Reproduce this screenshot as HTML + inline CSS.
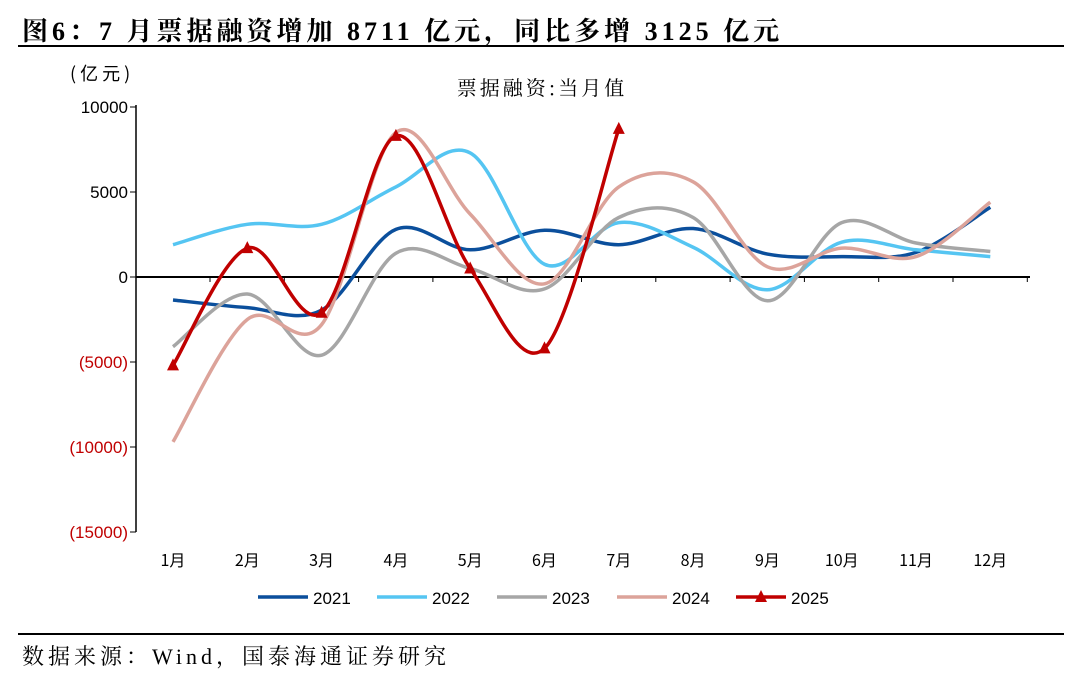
<!DOCTYPE html>
<html><head><meta charset="utf-8"><style>
body{margin:0;width:1080px;height:681px;background:#fff;overflow:hidden;font-family:"Liberation Serif","Noto Serif CJK SC",serif}
.t{position:absolute;left:22px;top:11px;font-size:26px;letter-spacing:4px;font-weight:bold;color:#000;white-space:nowrap}
.hl{position:absolute;left:18px;width:1046px;height:1.5px;background:#000}
.src{position:absolute;left:22px;top:640px;font-size:22px;letter-spacing:4px;white-space:nowrap}
</style></head><body>
<div class="t">图6：7 月票据融资增加 8711 亿元，同比多增 3125 亿元</div>
<div class="hl" style="top:45px"></div>
<div class="hl" style="top:633px"></div>
<div class="src">数据来源：Wind，国泰海通证券研究</div>
<svg id="s" width="1080" height="681" style="position:absolute;left:0;top:0" font-family="Liberation Sans, Noto Sans CJK SC, sans-serif">
<text x="70" y="80" font-size="18" letter-spacing="4" font-family="Noto Sans CJK SC, sans-serif">(亿元)</text>
<text x="542" y="95" font-size="20" letter-spacing="3" text-anchor="middle" font-family="Noto Serif CJK SC, serif">票据融资:当月值</text>
<g id="g"></g>
</svg>
<script>
const g=document.getElementById('g');let h='';
const Y=v=>277-v/5000*85, X=i=>173+i*74.3;
h+='<line x1="136" y1="105" x2="136" y2="532" stroke="#000" stroke-width="1.5"/>';
[10000,5000,0,-5000,-10000,-15000].forEach(v=>{const y=Y(v);h+=`<line x1="130" y1="${y}" x2="136" y2="${y}" stroke="#000"/>`;
const lab=v<0?`(${-v})`:v;h+=`<text x="128" y="${y+6}" font-size="17" text-anchor="end" fill="${v<0?'#c00000':'#000'}">${lab}</text>`});
h+='<line x1="136" y1="277" x2="1030" y2="277" stroke="#000" stroke-width="2"/>';
for(let i=0;i<12;i++){const x=210+i*74.3;h+=`<line x1="${x}" y1="277" x2="${x}" y2="282" stroke="#000"/>`;
h+=`<text x="${X(i)}" y="566" font-size="16" text-anchor="middle" font-family="Noto Sans CJK SC, sans-serif">${i+1}月</text>`}
const S=[
['#0b4f9c',[-1350,-1800,-1950,2800,1600,2750,1900,2850,1350,1200,1450,4100],'2021'],
['#55c5f2',[1900,3100,3100,5300,7300,750,3200,1750,-750,2050,1600,1200],'2022'],
['#a6a6a6',[-4100,-1000,-4600,1400,500,-700,3500,3500,-1400,3200,2000,1500],'2023'],
['#dca39a',[-9700,-2500,-2800,8500,3700,-400,5300,5600,600,1700,1200,4400],'2024'],
['#c00000',[-5200,1700,-2100,8300,500,-4200,8711],'2025']];
S.forEach(([c,d])=>{const p=d.map((v,i)=>[X(i),Y(v)]);let s=`M${p[0]}`;
for(let i=0;i<p.length-1;i++){const a=p[i-1]||p[i],b=p[i],e=p[i+1],f=p[i+2]||e;
s+=` C${b[0]+(e[0]-a[0])/6},${b[1]+(e[1]-a[1])/6} ${e[0]-(f[0]-b[0])/6},${e[1]-(f[1]-b[1])/6} ${e[0]},${e[1]}`}
h+=`<path d="${s}" fill="none" stroke="${c}" stroke-width="3.5"/>`;
if(c=='#c00000')p.forEach(q=>h+=`<polygon points="${q[0]},${q[1]-7} ${q[0]-6},${q[1]+5} ${q[0]+6},${q[1]+5}" fill="${c}"/>`)});
const lx=[258,377,497,617,736];
S.forEach(([c,,n],i)=>{const x=lx[i];h+=`<line x1="${x}" y1="597" x2="${x+50}" y2="597" stroke="${c}" stroke-width="3.5"/>`;
if(i==4)h+=`<polygon points="${x+25},590 ${x+19},602 ${x+31},602" fill="${c}"/>`;
h+=`<text x="${x+55}" y="604" font-size="17">${n}</text>`});
g.innerHTML=h;
</script>
</body></html>
